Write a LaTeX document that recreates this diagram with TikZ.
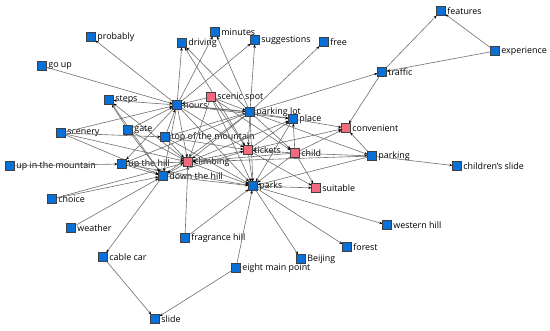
\documentclass[tikz,border=0pt]{standalone}
\usepackage{fontspec}
\setmainfont{Open Sans}
\usetikzlibrary{arrows.meta}
\definecolor{nblue}{HTML}{0A6FD6}
\definecolor{npink}{HTML}{F26A7D}
\definecolor{edgec}{HTML}{6E6E6E}
\tikzset{
  sq/.style={rectangle,minimum size=8.5pt,inner sep=0pt,draw=black!75,line width=0.5pt},
  bn/.style={sq,fill=nblue},
  pn/.style={sq,fill=npink},
  lbl/.style={font=\fontsize{8.9}{10}\selectfont,inner sep=0.5pt,text=black},
  edge/.style={draw=edgec,line width=0.6pt,-{Stealth[black,length=3.2pt,width=2.6pt]}},
}
\newcommand{\nd}[5]{\node[#1] (#2) at (#3) {}; \node[lbl,anchor=west] (#2-l) at ([xshift=1.2pt]#2.east) {#4#5};}
\begin{document}
\begin{tikzpicture}[x=1pt,y=-1pt]
\useasboundingbox (0,0) rectangle (550,331);
% nodes
\nd{bn}{probably}{91,37}{probably}{}
\nd{bn}{goup}{42,66}{go up}{}
\nd{bn}{driving}{182,43}{driving}{}
\nd{bn}{minutes}{215,32}{minutes}{}
\nd{bn}{suggestions}{255,40}{suggestions}{}
\nd{bn}{free}{324,42}{free}{}
\nd{bn}{features}{441,11}{features}{}
\nd{bn}{experience}{495,51}{experience}{}
\nd{bn}{traffic}{382,72}{traffic}{}
\nd{bn}{steps}{109,100}{steps}{}
\nd{bn}{hours}{177,105}{hours}{}
\nd{pn}{scenic}{211,97}{scenic spot}{}
\nd{bn}{parkinglot}{250,112}{parking lot}{}
\nd{bn}{place}{293,119}{place}{}
\nd{pn}{convenient}{346,128}{convenient}{}
\nd{bn}{scenery}{61,133}{scenery}{}
\nd{bn}{gate}{128,130}{gate}{}
\nd{bn}{topmountain}{165,137}{top of the mountain}{}
\nd{pn}{tickets}{248,150}{tickets}{}
\nd{pn}{child}{295,153}{child}{}
\nd{bn}{parking}{372,156}{parking}{}
\nd{bn}{childslide}{457,166}{children's slide}{}
\nd{bn}{upmountain}{10,166}{up in the mountain}{}
\nd{bn}{uphill}{122,164}{up the hill}{}
\nd{pn}{climbing}{188,162}{climbing}{}
\nd{bn}{downhill}{163,176}{down the hill}{}
\nd{bn}{parks}{253,186}{parks}{}
\nd{pn}{suitable}{316,188}{suitable}{}
\nd{bn}{choice}{52,199}{choice}{}
\nd{bn}{weather}{71,228}{weather}{}
\nd{bn}{western}{387,225}{western hill}{}
\nd{bn}{fragrance}{185,238}{fragrance hill}{}
\nd{bn}{forest}{347,247}{forest}{}
\nd{bn}{cablecar}{103,257}{cable car}{}
\nd{bn}{beijing}{301,259}{Beijing}{}
\nd{bn}{eight}{236,268}{eight main point}{}
\nd{bn}{slide}{155,319}{slide}{}
% edges
\foreach \s/\t in {
 hours/probably, goup/hours, hours/driving, parkinglot/driving, tickets/driving,
 hours/minutes, parkinglot/minutes, hours/suggestions, parkinglot/suggestions,
 parkinglot/free, traffic/features, experience/features, experience/traffic,
 traffic/convenient, parkinglot/traffic, parking/convenient, place/convenient,
 child/convenient, tickets/convenient, child/parking, parking/childslide,
 parks/western, parks/forest, parks/beijing, eight/parks, fragrance/parks,
 fragrance/climbing, downhill/cablecar, cablecar/slide, eight/slide,
 weather/downhill, choice/downhill, choice/climbing, upmountain/uphill,
 uphill/downhill, uphill/climbing, uphill/parks, scenery/topmountain,
 scenery/climbing, scenery/downhill, scenery/hours, hours/steps, climbing/steps,
 gate/steps, gate/hours, gate/climbing, gate/downhill, topmountain/hours,
 topmountain/climbing, topmountain/parkinglot, topmountain/tickets,
 topmountain/parks, hours/climbing, hours/downhill, hours/parks,
 hours/tickets, hours/place, hours/uphill, scenic/parkinglot, scenic/climbing,
 scenic/parks, scenic/tickets, scenic/child, scenic/hours, parkinglot/place,
 parkinglot/tickets, parkinglot/parks, parkinglot/child, parkinglot/climbing,
 parkinglot/uphill, parkinglot/downhill, parkinglot/parking, tickets/parks,
 tickets/climbing, tickets/place, child/place, child/parks, child/tickets,
 child/suitable, child/climbing, parks/suitable, tickets/suitable,
 climbing/parks, downhill/parks, place/parks, parking/parks, parking/climbing,
 climbing/downhill, steps/downhill, climbing/place, downhill/tickets}
 \draw[edge] (\s) -- (\t);
\draw[edge,line width=1.1pt] (hours) -- (parkinglot);
% redraw node squares on top of the connectors
\foreach \n/\c in {probably/nblue, goup/nblue, driving/nblue, minutes/nblue,
 suggestions/nblue, free/nblue, features/nblue, experience/nblue, traffic/nblue,
 steps/nblue, hours/nblue, scenic/npink, parkinglot/nblue, place/nblue,
 convenient/npink, scenery/nblue, gate/nblue, topmountain/nblue, tickets/npink,
 child/npink, parking/nblue, childslide/nblue, upmountain/nblue, uphill/nblue,
 climbing/npink, downhill/nblue, parks/nblue, suitable/npink, choice/nblue,
 weather/nblue, western/nblue, fragrance/nblue, forest/nblue, cablecar/nblue,
 beijing/nblue, eight/nblue, slide/nblue}
 \fill[\c,draw=black!75,line width=0.5pt] (\n.south west) rectangle (\n.north east);
\end{tikzpicture}
\end{document}
